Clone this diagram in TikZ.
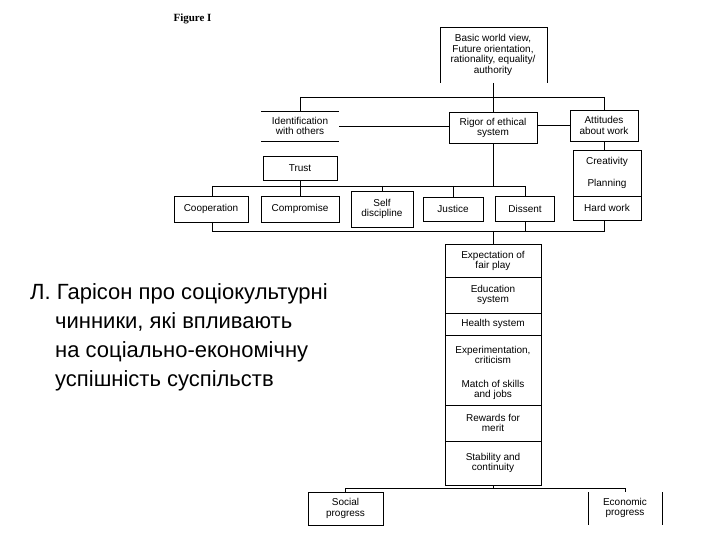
\documentclass[tikz,border=0pt]{standalone}
\usepackage{fontspec}
\setmainfont{Liberation Sans}
\newfontfamily\ukr{Liberation Sans}
\newfontfamily\fig{Liberation Serif}
\begin{document}
\begin{tikzpicture}[x=1pt,y=-1pt,
  ln/.style={line width=0.8pt},
  lbl/.style={align=center,font=\fontsize{10}{10.5}\selectfont,inner sep=0pt},
  bx/.style={draw,line width=0.8pt}]
\useasboundingbox (0,0) rectangle (720,540);
\node[font=\fig\bfseries\fontsize{11}{12}\selectfont,anchor=west] (fig) at (170,19) {Figure I};
% top
\draw[ln] (440,83) -- (440,27) -- (547,27) -- (547,83);
\node[lbl] (basic) at (493,55) {Basic world view,\\Future orientation,\\rationality, equality/\\authority};
\coordinate (bb) at (493,83);
\coordinate (hl) at (300,97); \coordinate (hr) at (604,97);
\draw[ln] (bb) -- (493,97);
\draw[ln] (hl) -- (hr);
% second row
\draw[ln] (261,111) -- (339,111); \draw[ln] (261,141) -- (339,141);
\node[lbl] (ident) at (300,126) {Identification\\with others};
\node[bx,lbl,minimum width=88,minimum height=31] (rigor) at (493,128) {Rigor of ethical\\system};
\node[bx,lbl,minimum width=68,minimum height=31] (att) at (604,125.5) {Attitudes\\about work};
\draw[ln] (hl) -- (300,111);
\draw[ln] (493,97) -- (rigor.north);
\draw[ln] (hr) -- (att.north);
\draw[ln] (339,126) -- (rigor.west |- 339,126);
\draw[ln] (rigor.east |- att.west) -- (att.west);
\node[bx,lbl,minimum width=74,minimum height=24] (trust) at (300,168) {Trust};
% work stack
\node[bx,lbl,minimum width=68,minimum height=46,anchor=north,text depth=0pt] (cp) at (607,150) {};
\node[lbl] (crea) at (607,162) {Creativity};
\node[lbl] (plan) at (607,184) {Planning};
\node[bx,lbl,minimum width=68,minimum height=24] (hard) at (607,208) {Hard work};
\draw[ln] (att.south) -- (cp.north -| att.south);
% third row
\node[bx,lbl,minimum width=74,minimum height=26] (coop) at (211,209) {Cooperation};
\node[bx,lbl,minimum width=78,minimum height=26] (comp) at (300,209) {Compromise};
\node[bx,lbl,minimum width=62,minimum height=36] (self) at (382,209) {Self\\discipline};
\node[bx,lbl,minimum width=60,minimum height=24] (just) at (453,209) {Justice};
\node[bx,lbl,minimum width=59,minimum height=25] (diss) at (525,208.5) {Dissent};
\draw[ln] (212,186) -- (525,186);
\draw[ln] (212,186) -- (coop.north -| 212,0);
\draw[ln] (trust.south) -- (comp.north);
\draw[ln] (382,186) -- (self.north);
\draw[ln] (453,186) -- (just.north);
\draw[ln] (525,186) -- (diss.north);
\draw[ln] (rigor.south) -- (493,186);
% stack
\node[bx,minimum width=96,minimum height=241,anchor=north,inner sep=0pt] (stack) at (493,244) {};
\foreach \yy in {277,313,335,405,441} \draw[ln] (445,\yy) -- (541,\yy);
\node[lbl] (e1) at (493,261) {Expectation of\\fair play};
\node[lbl] (e2) at (493,295) {Education\\system};
\node[lbl] (e3) at (493,324) {Health system};
\node[lbl] (e4) at (493,355) {Experimentation,\\criticism};
\node[lbl] (e5) at (493,390) {Match of skills\\and jobs};
\node[lbl] (e6) at (493,423) {Rewards for\\merit};
\node[lbl] (e7) at (493,463) {Stability and\\continuity};
\draw[ln] (212,222) -- (212,231) -- (604,231) -- (hard.south -| 604,0);
\draw[ln] (diss.south) -- (525,231);
\draw[ln] (493,231) -- (stack.north);
% bottom
\node[bx,lbl,minimum width=75,minimum height=33] (soc) at (345.5,508.5) {Social\\progress};
\draw[ln] (588,492) -- (588,525); \draw[ln] (662,492) -- (662,525);
\node[lbl] (eco) at (625,508) {Economic\\progress};
\draw[ln] (soc.north) -- (345.5,488) -- (625,488) -- (625,492);
\draw[ln] (stack.south) -- (493,488);
% Ukrainian text
\node[font=\ukr\fontsize{22}{29}\selectfont,anchor=north west,align=left,inner sep=0pt] (uk) at (30,283)
{Л. Гарісон про соціокультурні\\\hspace*{25pt}чинники, які впливають\\\hspace*{25pt}на соціально-економічну\\\hspace*{25pt}успішність суспільств};
\end{tikzpicture}
\end{document}
